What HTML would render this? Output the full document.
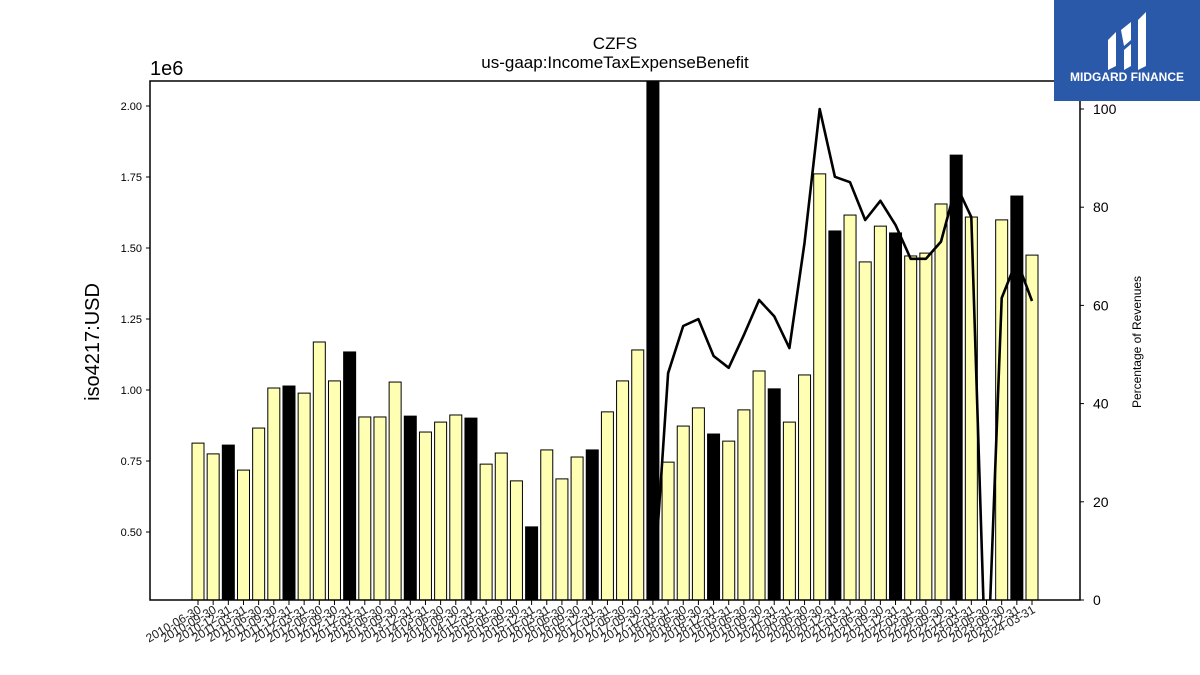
<!DOCTYPE html>
<html><head><meta charset="utf-8"><style>
body{margin:0;background:#fff;}
svg{display:block;font-family:"Liberation Sans","DejaVu Sans",sans-serif;}
</style></head><body>
<svg id="chart" width="1200" height="675" viewBox="0 0 1200 675" xmlns="http://www.w3.org/2000/svg">
<defs><clipPath id="plotclip"><rect x="150" y="81" width="930" height="519"/></clipPath></defs>
<rect width="1200" height="675" fill="#fff"/>
<text x="615" y="49" font-size="17" text-anchor="middle">CZFS</text>
<text x="615" y="68" font-size="17" text-anchor="middle">us-gaap:IncomeTaxExpenseBenefit</text>
<text x="150" y="75" font-size="20">1e6</text>
<text transform="translate(99,342) rotate(-90)" font-size="20" text-anchor="middle">iso4217:USD</text>
<text transform="translate(1141,342) rotate(-90)" font-size="12" text-anchor="middle">Percentage of Revenues</text>
<g id="bars" clip-path="url(#plotclip)"></g>
<g id="line" clip-path="url(#plotclip)"></g>
<g id="axes"></g>
<rect x="150" y="81" width="930" height="519" fill="none" stroke="#000" stroke-width="1.5"/>
<g>
<rect x="1054" y="0" width="146" height="101" fill="#2b59a9"/>
<path d="M1108 40 L1116 32 L1116 66 L1108 70 Z M1121 30 L1131 22 L1131 40 L1124 46 Z M1124 50 L1131 44 L1131 66 L1124 70 Z M1138 20 L1146 12 L1146 66 L1138 70 Z" fill="#fff"/>
<text x="1127" y="81" font-size="12" font-weight="bold" fill="#fff" text-anchor="middle">MIDGARD FINANCE</text>
</g>
</svg>
<script>
const dates=["2010-06-30","2010-09-30","2010-12-31","2011-03-31","2011-06-30","2011-09-30","2011-12-31","2012-03-31","2012-06-30","2012-09-30","2012-12-31","2013-03-31","2013-06-30","2013-09-30","2013-12-31","2014-03-31","2014-06-30","2014-09-30","2014-12-31","2015-03-31","2015-06-30","2015-09-30","2015-12-31","2016-03-31","2016-06-30","2016-09-30","2016-12-31","2017-03-31","2017-06-30","2017-09-30","2017-12-31","2018-03-31","2018-06-30","2018-09-30","2018-12-31","2019-03-31","2019-06-30","2019-09-30","2019-12-31","2020-03-31","2020-06-30","2020-09-30","2020-12-31","2021-03-31","2021-06-30","2021-09-30","2021-12-31","2022-03-31","2022-06-30","2022-09-30","2022-12-31","2023-03-31","2023-06-30","2023-09-30","2023-12-31","2024-03-31"];
const taxExpense=[0.813,0.775,0.806,0.718,0.866,1.007,1.014,0.989,1.169,1.032,1.134,0.905,0.905,1.028,0.908,0.852,0.887,0.912,0.901,0.739,0.778,0.680,0.518,0.789,0.687,0.764,0.789,0.923,1.032,1.141,2.3,0.746,0.873,0.937,0.845,0.820,0.930,1.067,1.004,0.887,1.053,1.761,1.560,1.616,1.451,1.577,1.553,1.472,1.482,1.655,1.827,1.609,null,1.599,1.683,1.475];
const pctRevenue=[null,null,null,null,null,null,null,null,null,null,null,null,null,null,null,null,null,null,null,null,null,null,null,null,null,null,null,null,null,null,0,46.2,55.8,57.2,49.7,47.3,54.0,61.1,57.8,51.3,72.7,100,86.2,85.1,77.4,81.3,76.4,69.5,69.5,73.0,84.5,78.0,-20,61.5,69.2,60.9];
const leftTicks=[0.50,0.75,1.00,1.25,1.50,1.75,2.00];
const rightTicks=[0,20,40,60,80,100];
const NS="http://www.w3.org/2000/svg";
const x0=198,dx=(1032-198)/55,bw=12;
function xs(i){return x0+i*dx;}
function yL(v){return 106+(2.0-v)*284;}
function yR(v){return 600-v*4.91;}
function mk(tag,attrs,parent){const e=document.createElementNS(NS,tag);for(const k in attrs)e.setAttribute(k,attrs[k]);parent.appendChild(e);return e;}
const gb=document.getElementById('bars'),gl=document.getElementById('line'),ga=document.getElementById('axes');
taxExpense.forEach((v,i)=>{
  if(v===null)return;
  const black=dates[i].endsWith('12-31');
  const y=yL(v);
  const r=mk('rect',{x:xs(i)-bw/2,y:y,width:bw,height:Math.max(0,620-y),fill:black?'#000':'#ffffb3',stroke:'#000','stroke-width':1},gb);
  
  
});
let d='';
pctRevenue.forEach((v,i)=>{if(v===null)return;d+=(d?'L':'M')+xs(i).toFixed(1)+' '+yR(v).toFixed(1);});
const p=mk('path',{d:d,fill:'none',stroke:'#000','stroke-width':2.6,'stroke-linejoin':'round'},gl);


leftTicks.forEach(t=>{
  const y=yL(t);
  mk('line',{x1:146,x2:150,y1:y,y2:y,stroke:'#000'},ga);
  const tx=mk('text',{x:142,y:y+4,'font-size':11,'text-anchor':'end'},ga);
  tx.textContent=t.toFixed(2);
  
  
});
rightTicks.forEach(t=>{
  const y=yR(t);
  mk('line',{x1:1080,x2:1084,y1:y,y2:y,stroke:'#000'},ga);
  const tx=mk('text',{x:1093,y:y+5,'font-size':14},ga);
  tx.textContent=t;
  
  
});
dates.forEach((s,i)=>{
  const x=xs(i);
  mk('line',{x1:x,x2:x,y1:600,y2:605,stroke:'#000'},ga);
  const tx=mk('text',{transform:'translate('+(x+4)+',612) rotate(-30)','font-size':12,'text-anchor':'end',fill:'#222'},ga);
  tx.textContent=s;
  
  
});
</script>
</body></html>
